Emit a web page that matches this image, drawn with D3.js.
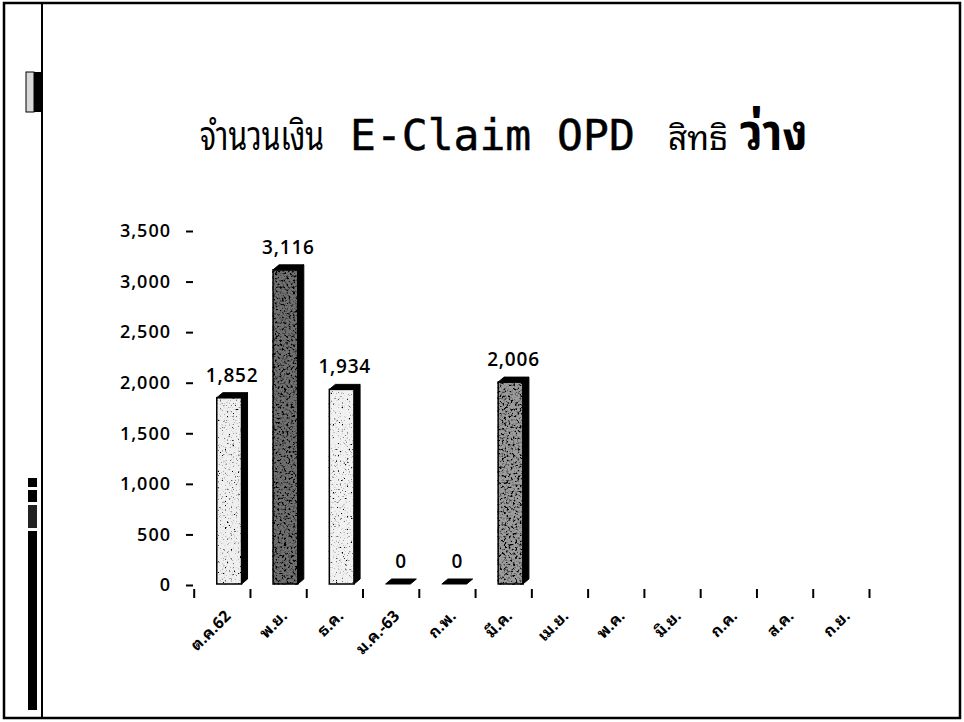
<!DOCTYPE html>
<html>
<head>
<meta charset="utf-8">
<script src="https://cdn.jsdelivr.net/npm/d3@7/dist/d3.min.js"></script>
<style>
  html, body { margin: 0; padding: 0; background: #fff; }
  svg { display: block; }
  .thai { font-family: "Noto Sans Thai Looped", "Noto Sans Thai", "Noto Sans", "DejaVu Sans", sans-serif; }
  .num { font-family: "Open Sans", "Noto Sans", sans-serif; font-weight: 600; }
</style>
</head>
<body>
<script>
// Fiscal-year months (Oct 2019 – Sep 2020)
const months = ["ต.ค.62", "พ.ย.", "ธ.ค.", "ม.ค.-63", "ก.พ.", "มี.ค.", "เม.ย.", "พ.ค.", "มิ.ย.", "ก.ค.", "ส.ค.", "ก.ย."];
// E-Claim OPD amounts, "ว่าง" entitlement (null = no data yet)
const amounts = [1852, 3116, 1934, 0, 0, 2006, null, null, null, null, null, null];
// Value-axis ticks
const yTicks = [0, 500, 1000, 1500, 2000, 2500, 3000, 3500];

// Front-face tones of the printed columns
const tones = ["#efefef", "#6f6f6f", "#f1f1f1", "#bbbbbb", "#bbbbbb", "#9c9c9c"];
const speckle = ["light", "heavy", "light", "light", "light", "heavy"];

const W = 964, H = 722;
const svg = d3.select("body").append("svg").attr("width", W).attr("height", H);

// noise filters that give the columns their grainy print texture
const defs = svg.append("defs");
function makeSpeckle(id, freq, cut) {
  const f = defs.append("filter").attr("id", id)
    .attr("x", "-5%").attr("y", "-5%").attr("width", "110%").attr("height", "110%");
  f.append("feTurbulence").attr("type", "fractalNoise").attr("baseFrequency", freq)
    .attr("numOctaves", 2).attr("seed", 7).attr("result", "noise");
  f.append("feColorMatrix").attr("in", "noise").attr("type", "matrix")
    .attr("values", `0 0 0 0 0  0 0 0 0 0  0 0 0 0 0  ${cut[0]} 0 0 0 ${cut[1]}`)
    .attr("result", "dots");
  f.append("feComposite").attr("in", "dots").attr("in2", "SourceGraphic")
    .attr("operator", "in").attr("result", "clipped");
  const m = f.append("feMerge");
  m.append("feMergeNode").attr("in", "SourceGraphic");
  m.append("feMergeNode").attr("in", "clipped");
}
makeSpeckle("grain-light", 0.55, [6, -3.6]);
makeSpeckle("grain-heavy", 0.45, [5, -2.4]);

// ---- page frame ----
const frame = svg.append("g").attr("stroke", "#000").attr("fill", "none");
frame.append("rect").attr("x", 4).attr("y", 3).attr("width", 956).attr("height", 715).attr("stroke-width", 2.5);
frame.append("line").attr("x1", 42).attr("x2", 42).attr("y1", 3).attr("y2", 718).attr("stroke-width", 2);

const side = svg.append("g");
side.append("rect").attr("x", 26).attr("y", 72).attr("width", 8).attr("height", 40)
  .attr("fill", "#d8d8d8").attr("stroke", "#000").attr("stroke-width", 1);
side.append("rect").attr("x", 34).attr("y", 72).attr("width", 8).attr("height", 40).attr("fill", "#000");
side.append("rect").attr("x", 28).attr("y", 478).attr("width", 9).attr("height", 9).attr("fill", "#000");
side.append("rect").attr("x", 28).attr("y", 490).attr("width", 9).attr("height", 12).attr("fill", "#000");
side.append("rect").attr("x", 28).attr("y", 505).attr("width", 9).attr("height", 23).attr("fill", "#222");
side.append("rect").attr("x", 28).attr("y", 531).attr("width", 9).attr("height", 179).attr("fill", "#000");

// ---- title ----
const titleY = 150;
const title = svg.append("g");
title.append("text").attr("class", "thai").attr("x", 200).attr("y", titleY)
  .attr("font-size", 40).attr("textLength", 124).attr("lengthAdjust", "spacingAndGlyphs")
  .text("จำนวนเงิน");
title.append("text").attr("x", 350).attr("y", titleY)
  .attr("font-family", "'DejaVu Sans Mono', monospace").attr("font-size", 43)
  .attr("stroke", "#000").attr("stroke-width", 0.5)
  .text("E-Claim OPD");
title.append("text").attr("class", "thai").attr("x", 668).attr("y", titleY)
  .attr("font-size", 33).attr("textLength", 60).attr("lengthAdjust", "spacingAndGlyphs")
  .text("สิทธิ");
title.append("text").attr("class", "thai").attr("x", 740).attr("y", titleY)
  .attr("font-size", 50).attr("font-weight", 700)
  .attr("textLength", 68).attr("lengthAdjust", "spacingAndGlyphs")
  .text("ว่าง");

// ---- scales ----
const x = d3.scaleBand().domain(months).range([193.7, 869]).paddingInner(0).paddingOuter(0);
const xEdge = d3.scaleLinear().domain([0, months.length]).range([193.7, 869]);
const y = d3.scaleLinear().domain([0, 3500]).range([585, 231]);

// value axis: tick dashes and labels only
const yAxis = svg.append("g").attr("transform", "translate(193,0)")
  .call(d3.axisLeft(y).tickValues(yTicks).tickSize(7).tickPadding(15).tickFormat(d3.format(",")));
yAxis.select(".domain").remove();
yAxis.selectAll(".tick line").attr("stroke", "#000").attr("stroke-width", 2);
yAxis.selectAll(".tick text").attr("class", "num").attr("font-size", 18)
  .attr("letter-spacing", 1).attr("fill", "#000");

// category axis: boundary tick dashes
const xAxis = svg.append("g").attr("transform", "translate(0,589)")
  .call(d3.axisBottom(xEdge).tickValues(d3.range(0, months.length + 1)).tickSize(9).tickFormat(""));
xAxis.select(".domain").remove();
xAxis.selectAll(".tick line").attr("stroke", "#000").attr("stroke-width", 2);

// rotated month labels
svg.append("g").selectAll("text").data(months).join("text")
  .attr("class", "thai")
  .attr("font-size", 16).attr("font-weight", 700)
  .attr("text-anchor", "end")
  .attr("transform", d => `translate(${x(d) + x.bandwidth() / 2 + 10},617) rotate(-45)`)
  .text(d => d);

// ---- 3D columns ----
const dx = 6, dy = 5;
const bw = x.bandwidth();
const bars = months.map((m, i) => ({ m, v: amounts[i], i })).filter(d => d.v !== null);

const g = svg.append("g");
bars.forEach(d => {
  const x0 = x(d.m) + 0.41 * bw, w = 0.44 * bw;
  const yt = y(d.v), yb = y(0) - 1;
  if (d.v > 0) {
    g.append("rect").attr("x", x0).attr("y", yt).attr("width", w).attr("height", yb - yt)
      .attr("fill", tones[d.i]).attr("stroke", "#000").attr("stroke-width", 1.5)
      .attr("filter", `url(#grain-${speckle[d.i]})`);
    g.append("path")
      .attr("d", `M${x0 + w},${yt} L${x0 + w + dx},${yt - dy} L${x0 + w + dx},${yb - dy} L${x0 + w},${yb} Z`)
      .attr("fill", "#000").attr("stroke", "#000").attr("stroke-width", 1);
  }
  const yTop = Math.min(yt, yb);
  g.append("path")
    .attr("d", `M${x0},${yTop} L${x0 + dx},${yTop - dy} L${x0 + w + dx},${yTop - dy} L${x0 + w},${yTop} Z`)
    .attr("fill", "#000").attr("stroke", "#000").attr("stroke-width", 1);

  // value label
  g.append("text").attr("class", "num")
    .attr("x", x0 + w / 2 + dx / 2).attr("y", yTop - dy - 11)
    .attr("text-anchor", "middle").attr("font-size", 19).attr("letter-spacing", 0.8)
    .text(d3.format(",")(d.v));
});
</script>
</body>
</html>
